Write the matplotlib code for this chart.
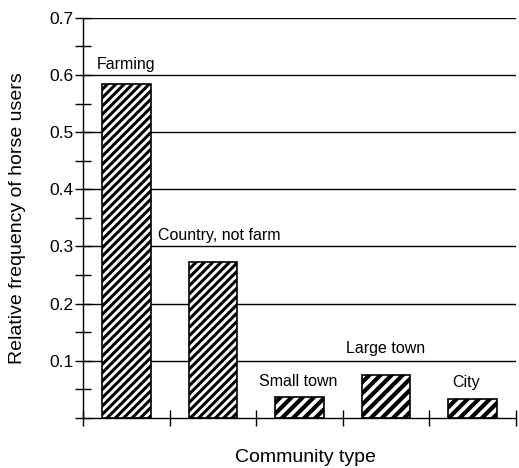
import numpy as np
import matplotlib
matplotlib.use("Agg")
import matplotlib.pyplot as plt
from matplotlib.ticker import MultipleLocator, FuncFormatter

plt.rcParams['font.family'] = ['Liberation Sans', 'DejaVu Sans']

# relative frequency of horse users by community type
communities = ['Farming', 'Country, not farm', 'Small town', 'Large town', 'City']
freq = [0.585, 0.273, 0.037, 0.075, 0.033]
# where each label sits (x, bottom of text)
label_pos = [(0.5, 0.606), (1.57, 0.306), (2.48, 0.051), (3.49, 0.108), (4.42, 0.048)]
hatches = ['////', '////', '///', '///', '///']
hatch_lw = [2.2, 2.2, 3.0, 3.0, 3.0]

fig = plt.figure(figsize=(5.19, 4.68), dpi=100)
ax = fig.add_axes([0.160, 0.107, 0.834, 0.855])

for y in np.arange(0.1, 0.75, 0.1):
    ax.axhline(y, color='black', lw=1.0, zorder=0)

x = np.arange(len(freq)) + 0.5
for i in range(len(freq)):
    with plt.rc_context({'hatch.linewidth': hatch_lw[i]}):
        ax.bar(x[i], freq[i], width=0.56, facecolor='white', edgecolor='black',
               hatch=hatches[i], linewidth=1.2, zorder=2)
    ax.text(label_pos[i][0], label_pos[i][1], communities[i], ha='center',
            va='bottom', fontsize=11.5)

ax.set_xlim(0, 5)
ax.set_ylim(0, 0.7)
ax.spines['top'].set_visible(False)
ax.spines['right'].set_visible(False)
ax.spines['left'].set_linewidth(1.0)
ax.spines['bottom'].set_linewidth(1.0)

ax.set_xticks(np.arange(0, 6))
ax.set_xticklabels([])
ax.yaxis.set_major_locator(MultipleLocator(0.1))
ax.yaxis.set_minor_locator(MultipleLocator(0.05))
ax.yaxis.set_major_formatter(FuncFormatter(lambda v, p: '' if v < 0.05 else '%.1f' % v))
ax.tick_params(which='both', direction='inout', length=12, width=1.0, colors='black')
ax.tick_params(axis='y', labelsize=12.5, pad=1)

# axis titles
fig.text(0.0337, 0.534, 'Relative frequency of horse users', rotation=90,
         ha='center', va='center', fontsize=14)
fig.text(0.588, 0.0128, 'Community type', ha='center', va='baseline', fontsize=14)

fig.savefig('out.png', dpi=100)
